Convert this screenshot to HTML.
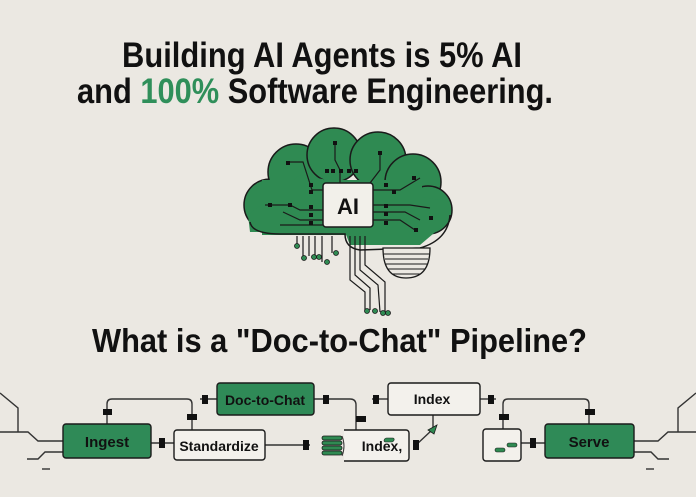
<!DOCTYPE html>
<html><head><meta charset="utf-8"><style>
html,body{margin:0;padding:0;background:#ebe8e2;}
svg{display:block;font-family:"Liberation Sans",sans-serif;}
</style></head><body>
<svg width="696" height="497" viewBox="0 0 696 497" xmlns="http://www.w3.org/2000/svg">
<rect width="696" height="497" fill="#ebe8e2"/>
<g font-weight="bold" font-size="35" fill="#111">
<text x="122" y="67" textLength="400" lengthAdjust="spacingAndGlyphs">Building AI Agents is 5% AI</text>
<text x="77" y="103" textLength="476" lengthAdjust="spacingAndGlyphs">and <tspan fill="#2f8f5a">100%</tspan> Software Engineering.</text>
<text x="92" y="352" font-size="33" textLength="495" lengthAdjust="spacingAndGlyphs">What is a "Doc-to-Chat" Pipeline?</text>
</g>
<!-- brain -->
<g stroke="#1a1a1a" stroke-width="1.5" fill="#2f8a52">
<circle cx="270" cy="205" r="26"/>
<circle cx="296" cy="172" r="28"/>
<circle cx="334" cy="155" r="27"/>
<circle cx="378" cy="160" r="28"/>
<circle cx="413" cy="182" r="28"/>
<circle cx="428" cy="210" r="24"/>
</g>
<path d="M248 215 L250 232 L345 232 L350 245 L420 245 L440 228 L440 200 L300 175 Z" fill="#2f8a52"/>
<rect x="262" y="180" width="160" height="55" fill="#2f8a52"/>
<path d="M250 222 Q252 234 280 234 L345 234 Q345 248 360 250 L420 248 Q448 240 450 215" fill="none" stroke="#1a1a1a" stroke-width="1.5"/>
<path d="M383 248 L430 248 Q430 278 406 278 Q383 278 383 248 Z" fill="#ebe8e2" stroke="#1a1a1a" stroke-width="1.3"/>
<g stroke="#1a1a1a" stroke-width="1"><line x1="384" y1="254" x2="429" y2="254"/><line x1="385" y1="259" x2="428" y2="259"/><line x1="386" y1="264" x2="427" y2="264"/><line x1="388" y1="269" x2="425" y2="269"/><line x1="393" y1="274" x2="420" y2="274"/></g>
<g stroke="#1a1a1a" stroke-width="1.2" fill="none">
<path d="M265 205 L290 205 L300 210 L323 210"/><path d="M283 212 L300 220 L323 220"/><path d="M280 225 L323 225"/>
<path d="M288 162 L303 162 L312 190 L323 190"/><path d="M335 143 L335 160 L340 170 L340 183"/>
<path d="M380 153 L380 170 L370 183"/><path d="M420 178 L400 190 L373 190"/><path d="M430 208 L410 205 L373 205"/>
<path d="M415 230 L400 220 L373 220"/><path d="M420 220 L405 212 L373 212"/>
<path d="M297 236 L297 245 M303 236 L303 257 M309 236 L309 256 M315 236 L315 256 M322 236 L322 262 M332 236 L332 253"/>
<path d="M350 236 L350 280 L365 292 L365 310 M355 236 L355 275 L370 288 L370 310 M360 236 L360 270 L378 285 L380 312 M365 236 L365 265 L385 282 L385 312"/>
</g>
<g fill="#2f8a52" stroke="#1a1a1a" stroke-width="0.8">
<circle cx="297" cy="246" r="2.5"/><circle cx="304" cy="258" r="2.5"/><circle cx="314" cy="257" r="2.5"/><circle cx="319" cy="257" r="2.5"/><circle cx="327" cy="262" r="2.5"/><circle cx="336" cy="253" r="2.5"/>
<circle cx="367" cy="311" r="2.5"/><circle cx="375" cy="311" r="2.5"/><circle cx="383" cy="313" r="2.5"/><circle cx="388" cy="313" r="2.5"/>
</g>
<g fill="#111">
<rect x="325" y="169" width="4" height="4"/><rect x="331" y="169" width="4" height="4"/><rect x="339" y="169" width="4" height="4"/><rect x="347" y="169" width="4" height="4"/><rect x="354" y="169" width="4" height="4"/>
<rect x="333" y="141" width="4" height="4"/><rect x="378" y="151" width="4" height="4"/><rect x="286" y="161" width="4" height="4"/><rect x="412" y="176" width="4" height="4"/>
<rect x="268" y="203" width="4" height="4"/><rect x="288" y="203" width="4" height="4"/><rect x="429" y="216" width="4" height="4"/><rect x="414" y="228" width="4" height="4"/>
<rect x="309" y="183" width="4" height="4"/><rect x="309" y="190" width="4" height="4"/><rect x="309" y="205" width="4" height="4"/><rect x="309" y="213" width="4" height="4"/><rect x="309" y="221" width="4" height="4"/>
<rect x="384" y="183" width="4" height="4"/><rect x="392" y="190" width="4" height="4"/><rect x="384" y="204" width="4" height="4"/><rect x="384" y="212" width="4" height="4"/><rect x="384" y="221" width="4" height="4"/>
</g>
<rect x="323" y="183" width="50" height="44" rx="3" fill="#f2f0ea" stroke="#1a1a1a" stroke-width="1.5"/>
<text x="348" y="214" font-size="22" font-weight="bold" text-anchor="middle" fill="#111">AI</text>
<!-- pipeline wires -->
<g stroke="#333" stroke-width="1.4" fill="none">
<path d="M0 393 L18 408 L18 432 L0 432 M18 432 L28 432 L38 441 L63 441 M27 459 L38 459 L45 452 L63 452"/>
<path d="M42 469 L50 469"/>
<path d="M696 393 L678 408 L678 432 L696 432 M678 432 L668 432 L658 441 L634 441 M669 459 L658 459 L651 452 L634 452"/>
<path d="M646 469 L654 469"/>
<path d="M107 424 L107 404 Q107 399 112 399 L187 399 Q192 399 192 404 L192 430"/>
<path d="M151 443 L174 443"/><path d="M265 445 L310 445"/>
<path d="M200 399 L217 399"/><path d="M314 399 L350 399 Q356 399 356 405 L356 430"/>
<path d="M372 399 L388 399"/><path d="M480 399 L496 399"/>
<path d="M433 415 L433 428"/><path d="M416 445 L432 430"/>
<path d="M503 429 L503 404 Q503 399 508 399 L584 399 Q589 399 589 404 L589 424"/>
<path d="M521 443 L545 443"/>
</g>
<polygon points="428,430 437,425 434,434" fill="#2f8a52" stroke="#1a1a1a" stroke-width="0.8"/>
<g fill="#111">
<rect x="103" y="409" width="9" height="6"/><rect x="187" y="414" width="10" height="6"/><rect x="159" y="438" width="6" height="10"/>
<rect x="303" y="440" width="6" height="10"/><rect x="202" y="395" width="6" height="9"/><rect x="323" y="395" width="6" height="9"/>
<rect x="356" y="416" width="10" height="6"/><rect x="373" y="395" width="6" height="9"/><rect x="488" y="395" width="6" height="9"/>
<rect x="413" y="440" width="6" height="10"/><rect x="499" y="414" width="10" height="6"/><rect x="585" y="409" width="10" height="6"/><rect x="530" y="438" width="6" height="10"/>
</g>
<!-- boxes -->
<g stroke="#1a1a1a" stroke-width="1.4">
<rect x="63" y="424" width="88" height="34" rx="3" fill="#2f8a57"/>
<rect x="174" y="430" width="91" height="30" rx="3" fill="#f3f1ec"/>
<rect x="217" y="383" width="97" height="32" rx="3" fill="#2f8a57"/>
<rect x="320" y="430" width="89" height="31" rx="3" fill="#f3f1ec"/>
<rect x="388" y="383" width="92" height="32" rx="3" fill="#f3f1ec"/>
<rect x="483" y="429" width="38" height="32" rx="3" fill="#f3f1ec"/>
<rect x="545" y="424" width="89" height="34" rx="3" fill="#2f8a57"/>
</g>
<rect x="318" y="428" width="26" height="34" fill="#ebe8e2"/>
<g fill="#2f8a52" stroke="#1a1a1a" stroke-width="0.8">
<rect x="322" y="436" width="20" height="4" rx="2"/><rect x="322" y="441" width="20" height="4" rx="2"/><rect x="322" y="446" width="20" height="4" rx="2"/><rect x="322" y="451" width="20" height="4" rx="2"/>
</g>
<path d="M342 436 Q346 446 342 456" fill="none" stroke="#333" stroke-width="1"/>
<g fill="#2f8a52" stroke="#1a1a1a" stroke-width="0.6">
<rect x="502" y="438" width="10" height="4" rx="2" transform="skewX(-15)"/><rect x="507" y="443" width="10" height="4" rx="2"/><rect x="495" y="448" width="10" height="4" rx="2"/>
</g>
<g font-weight="bold" font-size="15" fill="#111" text-anchor="middle">
<text x="107" y="447">Ingest</text>
<text x="219" y="451" font-size="14">Standardize</text>
<text x="265" y="405" font-size="14">Doc-to-Chat</text>
<text x="382" y="451" font-size="14">Index,</text>
<text x="432" y="404" font-size="14">Index</text>
<text x="589" y="447">Serve</text>
</g>
</svg>
</body></html>
